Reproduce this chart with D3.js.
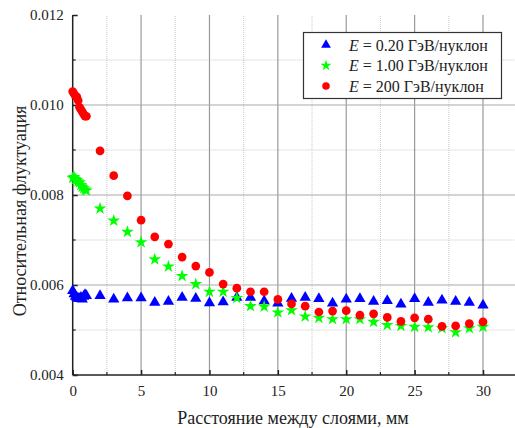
<!DOCTYPE html>
<html>
<head>
<meta charset="utf-8">
<script src="https://cdn.jsdelivr.net/npm/d3@7"></script>
<style>
  body { margin: 0; background: #fff; }
</style>
</head>
<body>
<script>
// Distances between layers, mm
var xs = [0, 0.1, 0.2, 0.3, 0.4, 0.5, 0.6, 0.7, 0.8, 0.9, 1.0,
  2, 3, 4, 5, 6, 7, 8, 9, 10, 11, 12, 13, 14, 15, 16, 17, 18, 19, 20,
  21, 22, 23, 24, 25, 26, 27, 28, 29, 30];

// E = 0.20 GeV/nucleon
var blueVals = [0.00585, 0.00578, 0.00572, 0.00570, 0.00568, 0.00567, 0.00570, 0.00566, 0.00572, 0.00576, 0.00574,
  0.00574, 0.00566, 0.00569, 0.00569, 0.00559, 0.00561, 0.00570, 0.00568, 0.00558, 0.00560, 0.00570, 0.00570, 0.00562, 0.00557,
  0.00568, 0.00570, 0.00567, 0.00557, 0.00566, 0.00567, 0.00561, 0.00563, 0.00555, 0.00567, 0.00559, 0.00564, 0.00561, 0.00559, 0.00553];

// E = 1.00 GeV/nucleon
var greenVals = [0.00838, 0.00840, 0.00835, 0.00833, 0.00830, 0.00828, 0.00822, 0.00818, 0.00815, 0.00812, 0.00810,
  0.00770, 0.00743, 0.00718, 0.00695, 0.00657, 0.00641, 0.00620, 0.00602, 0.00585, 0.00585, 0.00571, 0.00553, 0.00552, 0.00539,
  0.00544, 0.00530, 0.00527, 0.00524, 0.00524, 0.00524, 0.00518, 0.00511, 0.00509, 0.00507, 0.00506, 0.00504, 0.00495, 0.00504, 0.00507];

// E = 200 GeV/nucleon
var redVals = [0.01030, 0.01025, 0.01020, 0.01018, 0.01010, 0.00995, 0.00990, 0.00985, 0.00980, 0.00975, 0.00975,
  0.00898, 0.00843, 0.00798, 0.00744, 0.00707, 0.00691, 0.00662, 0.00642, 0.00628, 0.00602, 0.00593, 0.00585, 0.00585, 0.00568,
  0.00558, 0.00553, 0.00540, 0.00542, 0.00543, 0.00533, 0.00536, 0.00528, 0.00519, 0.00527, 0.00524, 0.00508, 0.00509, 0.00514, 0.00518];

var legendLabels = [' = 0.20 ГэВ/нуклон', ' = 1.00 ГэВ/нуклон', ' = 200 ГэВ/нуклон'];
var yTicks = [0.004, 0.006, 0.008, 0.010, 0.012];
var xTicks = [0, 5, 10, 15, 20, 25, 30];

var FONT = '"Liberation Serif", "Times New Roman", "DejaVu Serif", serif';

var width = 515,
  height = 428;

var svg = d3.select('body')
  .append('svg')
  .attr('width', width)
  .attr('height', height)
  .attr('font-family', FONT);

var x = d3.scaleLinear().domain([0, 30]).range([72.7, 483]);
var y = d3.scaleLinear().domain([0.004, 0.012]).range([375, 15]);

var right = width;

// grid
var grid = svg.append('g');
d3.range(2.5, 32.6, 5).forEach(function(v) {
  if (x(v) > right) return;
  grid.append('line')
    .attr('x1', x(v)).attr('x2', x(v)).attr('y1', y(0.004)).attr('y2', y(0.012))
    .attr('stroke', '#c8c8c8').attr('stroke-dasharray', '1,1');
});
[0.005, 0.007, 0.009, 0.011].forEach(function(v) {
  grid.append('line')
    .attr('x1', x(0)).attr('x2', right).attr('y1', y(v)).attr('y2', y(v))
    .attr('stroke', '#c8c8c8').attr('stroke-dasharray', '1,1');
});
xTicks.slice(1).forEach(function(v) {
  grid.append('line')
    .attr('x1', x(v)).attr('x2', x(v)).attr('y1', y(0.004)).attr('y2', y(0.012))
    .attr('stroke', '#999').attr('stroke-width', 1.2);
});
[0.006, 0.008, 0.010].forEach(function(v) {
  grid.append('line')
    .attr('x1', x(0)).attr('x2', right).attr('y1', y(v)).attr('y2', y(v))
    .attr('stroke', '#aaa').attr('stroke-width', 1.2);
});

// axes
var xAxis = d3.axisBottom(x).tickValues(xTicks).tickSize(-5).tickPadding(10)
  .tickFormat(d3.format('d'));
var gx = svg.append('g').attr('transform', 'translate(0,' + y(0.004) + ')').call(xAxis)
  .attr('font-family', FONT);
gx.select('.domain').remove();
gx.append('line').attr('x1', x(0)).attr('x2', right).attr('stroke', '#222').attr('stroke-width', 1.5);
gx.selectAll('.tick line').attr('stroke', '#222').attr('stroke-width', 1.5);
gx.selectAll('text').attr('font-size', 15).attr('fill', '#222').attr('font-family', FONT);
[2.5, 7.5, 12.5, 17.5, 22.5, 27.5].forEach(function(v) {
  gx.append('line').attr('x1', x(v)).attr('x2', x(v)).attr('y1', 0).attr('y2', -3)
    .attr('stroke', '#222').attr('stroke-width', 1.2);
});

var yAxis = d3.axisLeft(y).tickValues(yTicks).tickSize(-5).tickPadding(9)
  .tickFormat(d3.format('.3f'));
var gy = svg.append('g').attr('transform', 'translate(' + x(0) + ',0)').call(yAxis)
  .attr('font-family', FONT);
gy.select('.domain').attr('stroke', '#222').attr('stroke-width', 1.5).attr('d', 'M0,' + y(0.004) + 'V' + y(0.012));
gy.selectAll('.tick line').attr('stroke', '#222').attr('stroke-width', 1.5);
gy.selectAll('text').attr('font-size', 15).attr('fill', '#222').attr('font-family', FONT);
[0.005, 0.007, 0.009, 0.011].forEach(function(v) {
  gy.append('line').attr('x1', 0).attr('x2', 3).attr('y1', y(v)).attr('y2', y(v))
    .attr('stroke', '#222').attr('stroke-width', 1.2);
});

// titles
svg.append('text')
  .attr('x', 293).attr('y', 424)
  .attr('text-anchor', 'middle').attr('font-size', 18).attr('fill', '#222')
  .text('Расстояние между слоями, мм');
svg.append('text')
  .attr('transform', 'translate(26,211) rotate(-90)')
  .attr('text-anchor', 'middle').attr('font-size', 18).attr('fill', '#222')
  .text('Относительная флуктуация');

// series
var series = [
  { vals: blueVals, color: '#0000ff', sym: d3.symbolTriangle, size: 55, dy: -1 },
  { vals: greenVals, color: '#00ff00', sym: d3.symbolStar, size: 50, dy: 0 },
  { vals: redVals, color: '#ff0000', sym: d3.symbolCircle, size: 60, dy: 0 }
];

series.forEach(function(s) {
  svg.append('g').selectAll('path')
    .data(s.vals)
    .enter()
    .append('path')
    .attr('d', d3.symbol().type(s.sym).size(s.size))
    .attr('transform', function(d, i) { return 'translate(' + x(xs[i]) + ',' + (y(d) + s.dy) + ')'; })
    .attr('fill', s.color);
});

// legend
var lg = svg.append('g');
lg.append('rect')
  .attr('x', 303.5).attr('y', 32.5).attr('width', 198).attr('height', 66)
  .attr('fill', '#fff').attr('stroke', '#333').attr('stroke-width', 1.2);
series.forEach(function(s, i) {
  var ly = 45 + i * 20.5;
  lg.append('path')
    .attr('d', d3.symbol().type(s.sym).size(s.size * 0.75))
    .attr('transform', 'translate(326,' + ly + ')')
    .attr('fill', s.color);
  var t = lg.append('text')
    .attr('x', 349).attr('y', ly + 5.5)
    .attr('font-size', 16).attr('fill', '#222');
  t.append('tspan').attr('font-style', 'italic').text('E');
  t.append('tspan').text(legendLabels[i]);
});
</script>
</body>
</html>
